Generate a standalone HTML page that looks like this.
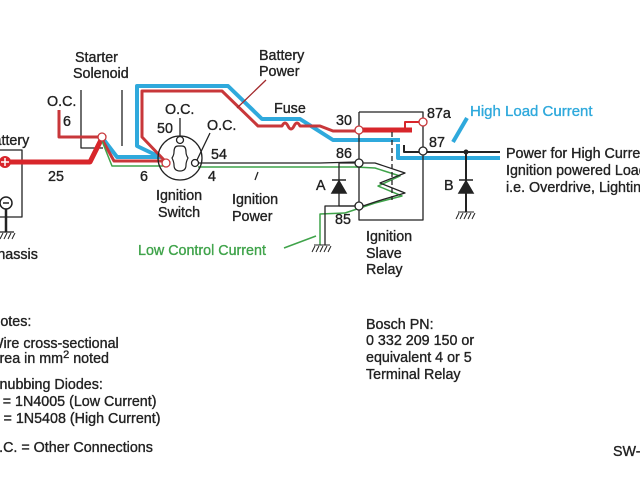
<!DOCTYPE html>
<html><head><meta charset="utf-8"><style>
html,body{margin:0;padding:0;background:#fff;width:640px;height:480px;overflow:hidden}
svg text{font-family:"Liberation Sans",Arial,sans-serif;font-size:14.3px;fill:#222;stroke:#222;stroke-width:0.35}
</style></head><body>
<svg width="640" height="480" viewBox="0 0 640 480" xmlns="http://www.w3.org/2000/svg">
<g fill="none" stroke-linejoin="round">
<path d="M-5 150 H22 V217 H-5" stroke="#222" stroke-width="1.3"/>
<path d="M6 205 V232" stroke="#222" stroke-width="2.5"/>
<path d="M-2 232 H14" stroke="#222" stroke-width="1.3"/>
<path d="M-1 233 l-3 6 M3 233 l-3 6 M7 233 l-3 6 M11 233 l-3 6 M15 233 l-3 6" stroke="#222" stroke-width="1"/>
<path d="M81 90 V148 H103 M122 90 V146" stroke="#222" stroke-width="1.3"/>
<path d="M59 110 V137 H99" stroke="#c8373a" stroke-width="3"/>
<path d="M5 162 H90 L101 140" stroke="#d8262b" stroke-width="5"/>
<path d="M104 140 L117 157 H160 L137 146 V86 H228 L262 119 H300 L333 140 H400" stroke="#2fa9dc" stroke-width="4"/>
<path d="M398 144 V158 H500" stroke="#2fa9dc" stroke-width="4"/>
<path d="M453 142 L467 118" stroke="#2fa9dc" stroke-width="4"/>
<path d="M103 141 L114 161 H165 L142 137 V91 H222 L258 126 H282 q3 -6 6 0 q3 6 6 0 q3 -6 6 0 H320 L333 131 H360" stroke="#c8373a" stroke-width="3"/>
<path d="M363 130 H412" stroke="#d8262b" stroke-width="5"/>
<path d="M400 131 H405 V122 H419" stroke="#d8262b" stroke-width="2"/>
<path d="M102 141 L112 166 H165 M198 167 H355 L375 168 L400 176 L378 186 L402 196 L375 203 L345 213" stroke="#3fa34a" stroke-width="1.5"/>
<path d="M345 213 L320 214 V245" stroke="#3fa34a" stroke-width="1.5"/>
<path d="M284 248 L316 236" stroke="#3fa34a" stroke-width="1.5"/>
<circle cx="180" cy="158" r="22" stroke="#222" stroke-width="1.3"/>
<path d="M178 146 q-4 0 -4 6 q0 3 -2 6 q2 4 2 7 q0 6 6 6 q6 0 6 -6 q0 -3 2 -7 q-2 -3 -2 -6 q0 -6 -4 -6 z" stroke="#222" stroke-width="1.2"/>
<path d="M180 118 V137 M197 160 L210 133" stroke="#222" stroke-width="1.3"/>
<path d="M199 163 H320 L356 162" stroke="#222" stroke-width="1.3"/>
<path d="M258 172 L255 180" stroke="#222" stroke-width="1.3"/>
<path d="M359 112 H423 V118 M359 112 V127 M359 134 V159 M359 167 V202 M359 210 V220 H423 V155 M423 148 V126" stroke="#222" stroke-width="1.3"/>
<path d="M363 163 H375 L405 173 L380 183 L405 193 L378 201 L363 206" stroke="#222" stroke-width="1.3"/>
<path d="M392 132 V200" stroke="#222" stroke-width="1.3" stroke-dasharray="5 3"/>
<path d="M355 163 H339 V206 H355" stroke="#222" stroke-width="1.3"/>
<path d="M355 206 H325 V245" stroke="#222" stroke-width="1.3"/>
<path d="M314 245 H330 M315 246 l-3 6 M319 246 l-3 6 M323 246 l-3 6 M327 246 l-3 6 M331 246 l-3 6" stroke="#222" stroke-width="1"/>
<path d="M404 145 V152 H500 M466 152 V212" stroke="#222" stroke-width="2"/>
<path d="M458 212 H474 M459 213 l-3 6 M463 213 l-3 6 M467 213 l-3 6 M471 213 l-3 6 M475 213 l-3 6" stroke="#222" stroke-width="1"/>
</g>
<path d="M332 193 H346 L339 181 Z M332 180 H346" fill="#222" stroke="#222" stroke-width="1.5"/>
<path d="M459 193 H473 L466 181 Z M459 180 H473" fill="#222" stroke="#222" stroke-width="1.5"/>
<circle cx="466" cy="152" r="2.5" fill="#222"/>
<g fill="#fff" stroke-width="1.3">
<circle cx="102" cy="137" r="4" stroke="#c8373a"/>
<circle cx="166" cy="163" r="4" stroke="#c8373a"/>
<circle cx="180" cy="140" r="3.5" stroke="#222"/>
<circle cx="195" cy="163" r="3.5" stroke="#222"/>
<circle cx="359" cy="130" r="4" stroke="#c8373a"/>
<circle cx="359" cy="163" r="4" stroke="#222"/>
<circle cx="359" cy="206" r="4" stroke="#222"/>
<circle cx="423" cy="122" r="4" stroke="#c8373a"/>
<circle cx="423" cy="151" r="4" stroke="#222"/>
</g>
<circle cx="5" cy="162" r="6" fill="#d8262b"/>
<path d="M1 162 H9 M5 158 V166" stroke="#fff" stroke-width="1.5"/>
<circle cx="6" cy="203" r="6" fill="#fff" stroke="#222" stroke-width="1.5"/>
<path d="M3 203 H9" stroke="#222" stroke-width="1.5"/>
<path d="M237 108 L266 80" stroke="#a32a2d" stroke-width="1.3"/>
<text x="-16" y="145">Battery</text>
<text x="-13" y="259">Chassis</text>
<text x="75" y="62">Starter</text>
<text x="73" y="78">Solenoid</text>
<g style="fill:#c8373a;stroke:#c8373a">
<text x="47" y="106">O.C.</text>
<text x="63" y="126">6</text>
<text x="48" y="181">25</text>
<text x="140" y="181">6</text>
<text x="259" y="60">Battery</text>
<text x="259" y="76">Power</text>
</g>
<text x="165" y="114">O.C.</text>
<text x="207" y="130">O.C.</text>
<text x="157" y="133">50</text>
<text x="211" y="159">54</text>
<text x="208" y="181">4</text>
<text x="156" y="200">Ignition</text>
<text x="158" y="217">Switch</text>
<text x="232" y="204">Ignition</text>
<text x="232" y="221">Power</text>
<text x="274" y="113">Fuse</text>
<text x="336" y="125">30</text>
<text x="336" y="158">86</text>
<text x="335" y="224">85</text>
<text x="427" y="118">87a</text>
<text x="429" y="147">87</text>
<text x="316" y="190">A</text>
<text x="444" y="190">B</text>
<text x="366" y="241">Ignition</text>
<text x="366" y="258">Slave</text>
<text x="366" y="274">Relay</text>
<text x="470" y="116" style="fill:#2fa9dc;stroke:#2fa9dc;font-size:15px">High Load Current</text>
<text x="506" y="158">Power for High Current</text>
<text x="506" y="175">Ignition powered Loads</text>
<text x="506" y="192">i.e. Overdrive, Lighting</text>
<text x="138" y="255" style="fill:#3fa34a;stroke:#3fa34a">Low Control Current</text>
<text x="-10" y="326">Notes:</text>
<text x="-10" y="348">Wire cross-sectional</text>
<text x="-10" y="363">Area in mm<tspan dy="-5" font-size="11">2</tspan><tspan dy="5"> noted</tspan></text>
<text x="-10" y="389">Snubbing Diodes:</text>
<text x="-10" y="406">A = 1N4005  (Low Current)</text>
<text x="-10" y="423">B = 1N5408 (High Current)</text>
<text x="-12" y="452">O.C. = Other Connections</text>
<text x="366" y="329">Bosch PN:</text>
<text x="366" y="345">0 332 209 150 or</text>
<text x="366" y="362">equivalent 4 or 5</text>
<text x="366" y="379">Terminal Relay</text>
<text x="613" y="456">SW-1</text>
</svg>
</body></html>
